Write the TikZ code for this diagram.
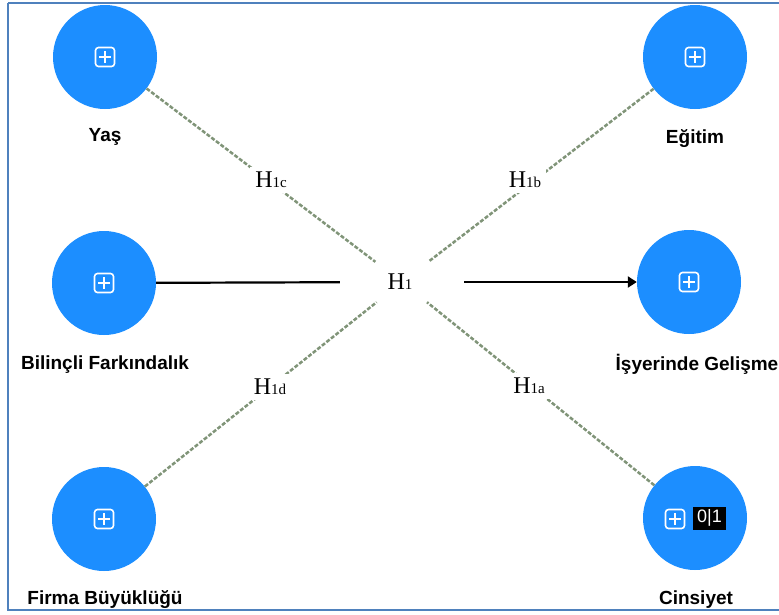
\documentclass[tikz,border=0pt]{standalone}
\usepackage{fontspec}
\setmainfont{Liberation Serif}
\newfontfamily\labfont{Liberation Sans}
\usetikzlibrary{arrows.meta}
\definecolor{nodeblue}{RGB}{28,142,255}
\definecolor{frameblue}{RGB}{79,129,189}
\definecolor{dashgreen}{RGB}{128,148,120}
\newcommand{\hlab}[1]{H{\fontsize{15}{15}\selectfont #1}}
\tikzset{
  construct/.style={circle,fill=nodeblue,draw=none,minimum size=104pt,inner sep=0pt},
  lab/.style={font=\labfont\bfseries\fontsize{19}{21}\selectfont,inner sep=0pt,anchor=center},
  hyp/.style={fill=white,inner sep=5pt,font=\fontsize{24}{26}\selectfont},
  hyplink/.style={draw=dashgreen,line width=2.5pt,dash pattern=on 4pt off 1.8pt},
  pathlink/.style={draw=black,line width=2.2pt},
  plusicon/.pic={
    \draw[white,line width=1.6pt,rounded corners=3pt] (-9.5,-9.5) rectangle (9.5,9.5);
    \draw[white,line width=1.6pt] (-6,0) -- (6,0) (0,-6) -- (0,6);
  }
}
\begin{document}
\begin{tikzpicture}[x=1pt,y=-1pt]
\useasboundingbox (0,0) rectangle (779,614);
\fill[white] (0,0) rectangle (779,614);
\draw[frameblue,line width=2pt] (8,3) -- (8,610) -- (800,610) (8,3) -- (800,3);

% constructs
\node[construct] (yas) at (105,57) {};
\node[construct] (egi) at (695,57) {};
\node[construct] (bil) at (104,283) {};
\node[construct] (isy) at (689,282) {};
\node[construct] (fir) at (104,519) {};
\node[construct] (cin) at (695,518) {};

\pic at (yas) {plusicon};
\pic at (egi) {plusicon};
\pic at (bil) {plusicon};
\pic at (isy) {plusicon};
\pic at (fir) {plusicon};
\pic at (675,519) {plusicon};
\node[fill=black,text=white,font=\labfont\fontsize{18}{18}\selectfont,minimum width=33pt,minimum height=23pt,inner sep=0pt] (bin) at (709.5,518) {0|1};

% labels
\node[lab] (lyas) at (105,137) {Yaş};
\node[lab] (legi) at (695,139) {Eğitim};
\node[lab] (lbil) at (105,365) {Bilinçli Farkındalık};
\node[lab] (lisy) at (697,364) {İşyerinde Gelişme};
\node[lab] (lfir) at (105,600) {Firma Büyüklüğü};
\node[lab] (lcin) at (696,600) {Cinsiyet};

% central hypothesis
\node[fill=white,minimum width=124pt,minimum height=40pt,inner sep=0pt] (h1) at (402,282) {};

\draw[hyplink] (yas) -- (h1);
\draw[hyplink] (egi) -- (h1);
\draw[hyplink] (fir) -- (h1);
\draw[hyplink] (cin) -- (h1);
\draw[pathlink] (bil) -- (h1);
\draw[pathlink,-{Triangle[length=9pt,width=11pt]}] (h1) -- (isy);

\node[font=\fontsize{24}{26}\selectfont] (h1t) at (400,282) {\hlab{1}};
\node[hyp] (h1c) at (271,180) {\hlab{1c}};
\node[hyp] (h1b) at (525,180) {\hlab{1b}};
\node[hyp] (h1d) at (270,387) {\hlab{1d}};
\node[hyp] (h1a) at (529,386) {\hlab{1a}};
\end{tikzpicture}
\end{document}
